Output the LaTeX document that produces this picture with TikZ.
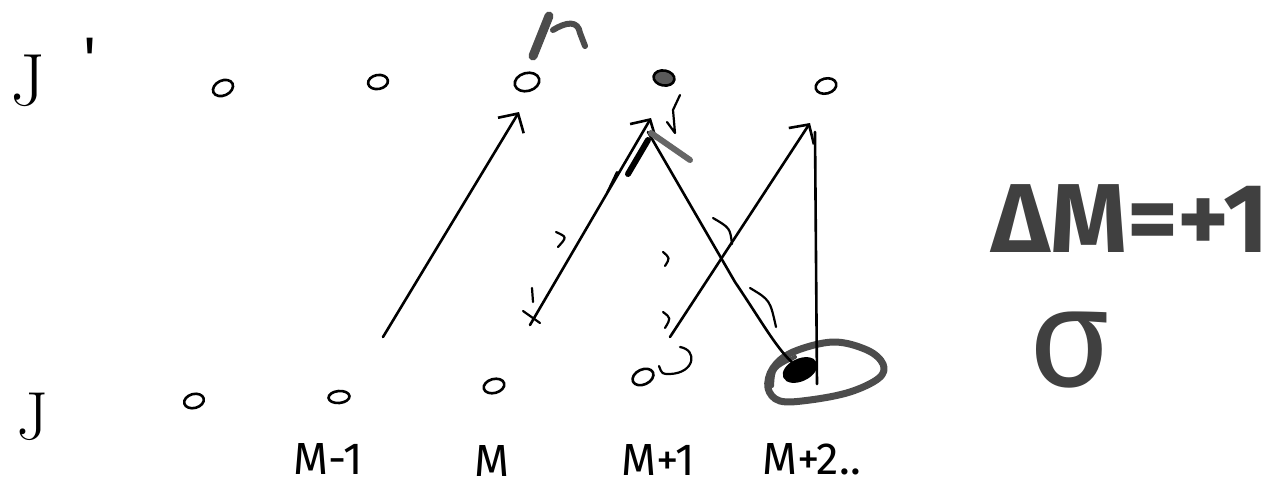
\documentclass[tikz,border=0pt]{standalone}
\usepackage{fontspec}
\newfontfamily\handsans{Fira Sans}
\usetikzlibrary{arrows.meta,shapes.geometric}
\tikzset{
  pen/.style={line width=2.6pt, line cap=round, line join=round},
  marker/.style={line width=7pt, draw=black!70, line cap=round, line join=round},
  state/.style={draw, ellipse, line width=2.6pt, minimum width=21pt, minimum height=15pt, inner sep=0pt},
  trans/.style={pen, -{Straight Barb[length=14pt, width=30pt, line width=2.6pt]}},
  tick/.style={line width=2.2pt, line cap=round, line join=round},
  lbl/.style={inner sep=0pt, font=\fontsize{45pt}{45pt}\selectfont\handsans},
  jlbl/.style={inner sep=0pt, font=\fontsize{74pt}{74pt}\selectfont},
  big/.style={inner sep=0pt, text=black!75, font=\fontsize{98pt}{98pt}\selectfont\handsans\bfseries},
}
\begin{document}
\begin{tikzpicture}[x=1pt,y=-1pt]
\useasboundingbox (0,0) rectangle (1272,488);

% level labels
\node[jlbl, anchor=base west] (Jup) at (10,105) {J\kern38pt\raisebox{26pt}{\handsans\fontsize{60pt}{60pt}\selectfont'}};
\node[jlbl, anchor=base west, font=\fontsize{68pt}{68pt}\selectfont] (Jlo) at (16,439) {J};

% upper sublevels
\node[state, rotate=25] (u1) at (223,88) {};
\node[state, minimum width=20pt, minimum height=14pt, rotate=10] (u2) at (378,82) {};
\node[state, minimum width=25pt, minimum height=18pt, rotate=15] (u3) at (527,82) {};
\node[state, fill=black!65, rotate=-10] (u4) at (664,78) {};
\node[state, rotate=15] (u5) at (826,86) {};

% lower sublevels
\node[state, minimum width=20pt, minimum height=14pt, rotate=15] (l1) at (194,401) {};
\node[state, minimum width=21pt, minimum height=12pt, rotate=5] (l2) at (339,397) {};
\node[state, minimum width=21pt, minimum height=14pt, rotate=15] (l3) at (494,386) {};
\node[state, minimum width=22pt, minimum height=15pt, rotate=25] (l4) at (643,377) {};
\node[state, fill=black, minimum width=34pt, minimum height=20pt, rotate=25] (l5) at (800,370) {};

% marker loop round the M+2 sublevel
\draw[marker] plot[smooth cycle, tension=0.6] coordinates {(793,352) (833,342) (867,350) (883,364) (879,378) (850,392) (810,400) (780,401) (768,388) (773,368)};
\draw[marker, line width=4pt] (772,386) .. controls (773,368) .. (795,357);

% marker scribble above the M sublevel
\draw[marker, line width=9pt] (533,56) -- (549,16);
\draw[marker, line width=6pt] (553,30) .. controls (566,22) and (578,20) .. (580,33) -- (585,46);

% transitions
\coordinate (a1s) at (383,337); \coordinate (a1e) at (519,112);
\coordinate (a2s) at (530,325); \coordinate (a2e) at (651,118);
\coordinate (a3s) at (670,337); \coordinate (a3e) at (810,123);
\coordinate (ds) at (648,132);  \coordinate (dm) at (735,282);
\coordinate (vs) at (815,132);  \coordinate (ve) at (817,384);
\draw[trans] (a1s) -- (a1e);
\draw[trans] (a2s) -- (a2e);
\draw[trans] (a3s) -- (a3e);
\draw[pen] (ds) -- (dm) .. controls (762,322) and (775,346) .. (l5);
\draw[pen] (vs) -- (ve);

% heavy strokes at the M+1 arrow head
\draw[line width=6pt, black!60, line cap=round] (651,133) -- (690,160);
\draw[line width=6pt, line cap=round] (628,174) -- (648,140);

% small tick marks
\draw[tick] (556,232) .. controls (567,237) .. (558,247);
\draw[tick] (532,288) -- (533,302);
\draw[tick] (523,311) -- (540,323);
\draw[tick] (607,193) -- (617,172);
\draw[tick] (663,252) .. controls (670,258) .. (665,266);
\draw[tick] (663,312) .. controls (671,318) .. (665,328);
\draw[tick] (713,218) .. controls (730,228) .. (732,244);
\draw[tick] (750,288) .. controls (770,300) .. (776,327);
\draw[tick] (680,347) .. controls (698,350) and (695,373) .. (670,374) .. controls (662,374) .. (659,366);
\draw[tick] (680,95) -- (673,110) -- (675,133) -- (667,122);

% M labels
\node[lbl] (m1) at (328,459) {M-1};
\node[lbl] (m2) at (492,461) {M};
\node[lbl] (m3) at (658,460) {M+1};
\node[lbl, anchor=west] (m4) at (762,459) {M+2..};

% selection rule
\node[big] (dm1) at (1130,219) {ΔM=+1};
\node[big, font=\fontsize{140pt}{140pt}\selectfont\handsans] (sig) at (1070,350) {σ};
\end{tikzpicture}
\end{document}
